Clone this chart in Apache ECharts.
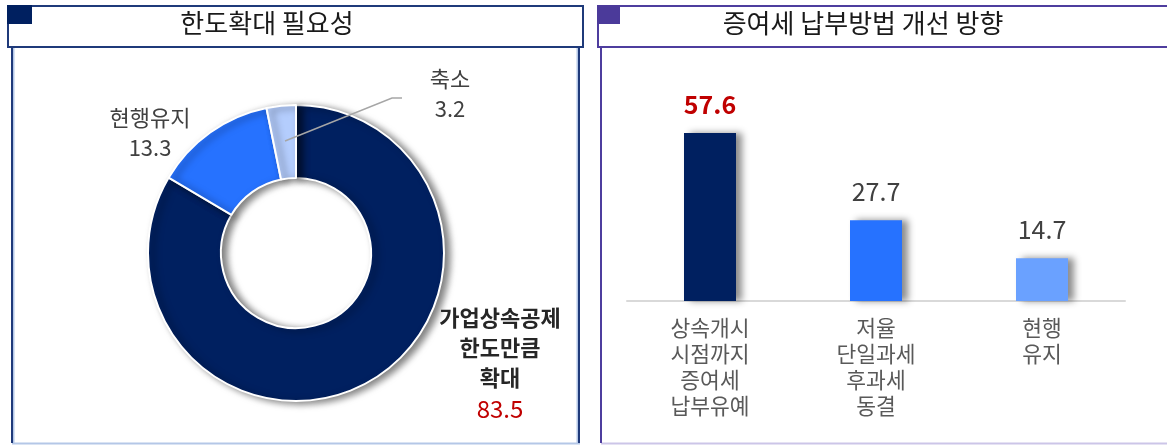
<!DOCTYPE html>
<html>
<head>
<meta charset="utf-8">
<script src="https://cdn.jsdelivr.net/npm/echarts@6/dist/echarts.min.js"></script>
<style>
html,body{margin:0;padding:0;background:#fff;}
#c{width:1167px;height:445px;}
</style>
</head>
<body>
<div id="c"></div>
<script>
// ---- data ----
var leftTitle = '한도확대 필요성';
var rightTitle = '증여세 납부방법 개선 방향';
var pieNames = ['가업상속공제\n한도만큼\n확대', '현행유지', '축소'];
var pieValues = [83.5, 13.3, 3.2];
var pieColors = ['#002060', '#2672ff', '#b4cdfd'];
var barCats = ['상속개시\n시점까지\n증여세\n납부유예', '저율\n단일과세\n후과세\n동결', '현행\n유지'];
var barValues = [57.6, 27.7, 14.7];
var barColors = ['#002060', '#2672ff', '#6aa1ff'];

var FONT = '"Noto Sans CJK KR", "Noto Sans", sans-serif';
var chart = echarts.init(document.getElementById('c'), null, {renderer: 'canvas'});

var pieLabelPos = [[500, 364], [150, 133], [450, 94]];

var pieData = pieValues.map(function (v, i) {
  var item = {value: v, name: pieNames[i], itemStyle: {color: pieColors[i]}};
  if (i === 0) {
    item.label = {formatter: '{b|{b}}\n{r|{c}}'};
  } else {
    item.label = {formatter: '{n|{b}}\n{n|{c}}'};
  }
  return item;
});

var barData = barValues.map(function (v, i) {
  var item = {value: v, itemStyle: {color: barColors[i]}};
  if (i === 0) item.label = {color: '#c00000', fontWeight: 'bold'};
  return item;
});

var option = {
  animation: false,
  title: [
    {text: leftTitle, left: 262, top: 5, textAlign: 'center',
     textStyle: {fontFamily: FONT, fontSize: 26, fontWeight: 'normal', color: '#1a1a1a'}},
    {text: rightTitle, left: 858, top: 5, textAlign: 'center',
     textStyle: {fontFamily: FONT, fontSize: 26, fontWeight: 'normal', color: '#1a1a1a'}}
  ],
  graphic: [
    // left panel
    {type: 'line', shape: {x1: 13, y1: 48, x2: 13, y2: 443}, style: {stroke: '#b4c7e7', lineWidth: 3}, z: 1},
    {type: 'line', shape: {x1: 12, y1: 48, x2: 12, y2: 443}, style: {stroke: '#1f3a7a', lineWidth: 2}, z: 2},
    {type: 'line', shape: {x1: 578, y1: 48, x2: 578, y2: 443}, style: {stroke: '#b4c7e7', lineWidth: 3}, z: 1},
    {type: 'line', shape: {x1: 579, y1: 48, x2: 579, y2: 443}, style: {stroke: '#1f3a7a', lineWidth: 2}, z: 2},
    {type: 'line', shape: {x1: 12, y1: 443.5, x2: 580, y2: 443.5}, style: {stroke: '#b4c7e7', lineWidth: 2}, z: 1},
    {type: 'rect', shape: {x: 8, y: 6, width: 575, height: 41}, style: {fill: '#fff', stroke: '#1f3a7a', lineWidth: 2}, z: 3},
    {type: 'rect', shape: {x: 7, y: 5, width: 25, height: 19}, style: {fill: '#002060'}, z: 4},
    // leader line for the small slice label
    {type: 'polyline', shape: {points: [[285, 141], [392, 98], [402, 98]]}, style: {stroke: '#a6a6a6', lineWidth: 1.5, fill: null}, z: 100},
    // right panel
    {type: 'line', shape: {x1: 601, y1: 48, x2: 601, y2: 443}, style: {stroke: '#4e3d9e', lineWidth: 2}, z: 2},
    {type: 'line', shape: {x1: 601, y1: 443.5, x2: 1167, y2: 443.5}, style: {stroke: '#ccc5e8', lineWidth: 2}, z: 1},
    {type: 'rect', shape: {x: 598, y: 6, width: 600, height: 41}, style: {fill: '#fff', stroke: '#4e3d9e', lineWidth: 2}, z: 3},
    {type: 'rect', shape: {x: 597, y: 5, width: 23, height: 19}, style: {fill: '#4b3a9a'}, z: 4}
  ],
  grid: {left: 627, right: 42, top: 126, bottom: 144},
  xAxis: {
    type: 'category', data: barCats,
    axisLine: {lineStyle: {color: '#d9d9d9', width: 2}},
    axisTick: {show: false},
    axisLabel: {fontFamily: FONT, fontSize: 21.5, color: '#595959', lineHeight: 26, margin: 14, interval: 0}
  },
  yAxis: {type: 'value', min: 0, max: 60, show: false, splitLine: {show: false}},
  series: [
    {
      type: 'pie', center: [296, 253], radius: [75, 148], startAngle: 90, clockwise: true,
      z: 10,
      data: pieData,
      itemStyle: {borderColor: '#fff', borderWidth: 2, shadowColor: 'rgba(0,0,0,0.5)', shadowBlur: 7, shadowOffsetX: 5, shadowOffsetY: 2},
      label: {
        show: true, position: 'outside', fontFamily: FONT,
        rich: {
          b: {fontFamily: FONT, fontSize: 22, fontWeight: 'bold', color: '#262626', lineHeight: 30, align: 'center'},
          r: {fontFamily: FONT, fontSize: 24, color: '#c00000', lineHeight: 32, align: 'center'},
          n: {fontFamily: FONT, fontSize: 22, color: '#404040', lineHeight: 30, align: 'center'}
        }
      },
      labelLine: {show: false},
      labelLayout: function (params) {
        var p = pieLabelPos[params.dataIndex];
        return {x: p[0], y: p[1], align: 'center', verticalAlign: 'middle'};
      }
    },
    {
      type: 'bar', data: barData, barWidth: 52,
      itemStyle: {shadowColor: 'rgba(0,0,0,0.45)', shadowBlur: 7, shadowOffsetX: 6, shadowOffsetY: 0},
      label: {show: true, position: 'top', distance: 16, fontFamily: FONT, fontSize: 25, color: '#404040'}
    }
  ]
};
chart.setOption(option);
</script>
</body>
</html>
